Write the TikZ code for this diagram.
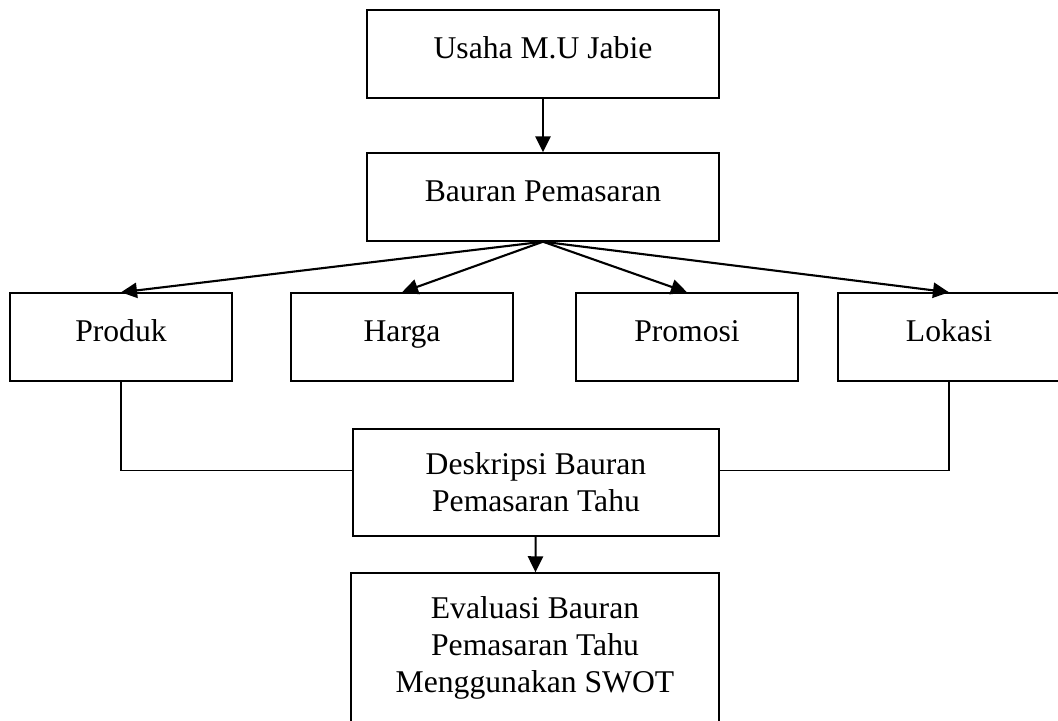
\documentclass[tikz,border=0pt]{standalone}
\usepackage{fontspec}
\setmainfont{Liberation Serif}
\usepackage{tikz}
\usetikzlibrary{arrows.meta}

\begin{document}
\begin{tikzpicture}[x=0.025cm,y=-0.025cm,
  box/.style={draw,line width=1pt,inner sep=0pt,align=center,font=\fontsize{22.5}{26.3}\selectfont},
  satu/.style={box,text height=16pt,text depth=9pt},
  kotak/.style={satu,minimum width=5.55cm,minimum height=2.2cm},
  panah/.style={line width=1.5pt,-{Triangle[length=4mm,width=3.8mm]}},
  garis/.style={line width=0.8pt}]
\useasboundingbox (0,0) rectangle (1058,721);
\node[satu,minimum width=8.8cm,minimum height=2.2cm] (usaha) at (543,54) {Usaha M.U Jabie};
\node[satu,minimum width=8.8cm,minimum height=2.2cm] (bauran) at (543,197) {Bauran Pemasaran};
\node[kotak] (produk) at (121,337) {Produk};
\node[kotak] (harga) at (402,337) {Harga};
\node[kotak] (promosi) at (687,337) {Promosi};
\node[kotak] (lokasi) at (949,337) {Lokasi};
\node[box,minimum width=9.15cm,minimum height=2.675cm] (deskripsi) at (536,482.5) {Deskripsi Bauran\\Pemasaran Tahu};
\node[box,minimum width=9.2cm,minimum height=3.725cm] (evaluasi) at (535,647.5) {Evaluasi Bauran\\Pemasaran Tahu\\Menggunakan SWOT};

\draw[panah] (usaha) -- (bauran);
\foreach \n in {produk,harga,promosi,lokasi}{
\draw[panah] (bauran.south) -- (\n.north);
}
%\draw[garis] (produk.south) |- (deskripsi.west);
\draw[garis] (produk.south) |- ([yshift=0.29cm]deskripsi.west);
\draw[garis] (lokasi.south) |- ([yshift=0.29cm]deskripsi.east);
\draw[panah] (deskripsi) -- (evaluasi);
\end{tikzpicture}
\end{document}
